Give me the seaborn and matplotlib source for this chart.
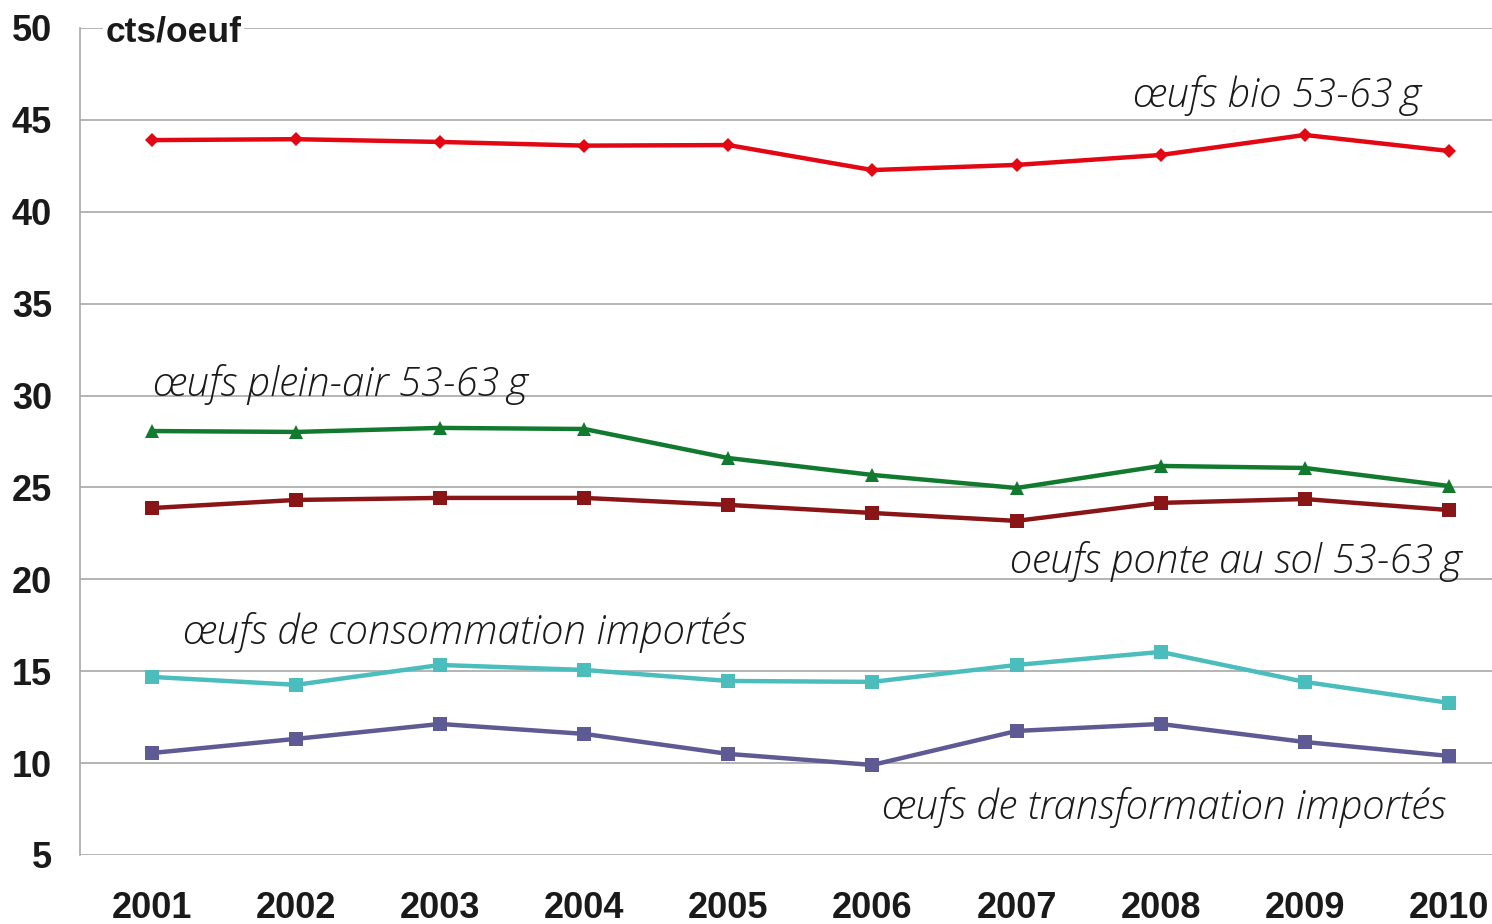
import matplotlib
matplotlib.use("Agg")
import matplotlib.pyplot as plt
import seaborn as sns
import pandas as pd
from matplotlib import font_manager as fm

years = [2001, 2002, 2003, 2004, 2005, 2006, 2007, 2008, 2009, 2010]
bio = [43.9, 43.95, 43.8, 43.6, 43.63, 42.27, 42.55, 43.09, 44.18, 43.31]
plein_air = [28.07, 28.02, 28.24, 28.18, 26.6, 25.68, 24.97, 26.17, 26.06, 25.08]
ponte_sol = [23.88, 24.32, 24.43, 24.43, 24.05, 23.61, 23.18, 24.16, 24.37, 23.77]
consommation = [14.69, 14.26, 15.34, 15.07, 14.47, 14.42, 15.34, 16.05, 14.42, 13.28]
transformation = [10.55, 11.32, 12.13, 11.59, 10.5, 9.9, 11.75, 12.13, 11.15, 10.39]

series_names = ["œufs bio 53-63\u2009g", "œufs plein-air 53-63\u2009g", "oeufs ponte au sol 53-63\u2009g",
                "œufs de consommation importés", "œufs de transformation importés"]
series_values = [bio, plein_air, ponte_sol, consommation, transformation]
y_ticks = [5, 10, 15, 20, 25, 30, 35, 40, 45, 50]
unit_label = "cts/oeuf"

colors = ["#E30613", "#127A2F", "#8A1517", "#4BBDBD", "#5E5A93"]
markers = ["D", "^", "s", "s", "s"]
msizes = [7, 10, 10, 10, 10]

rows = []
for name, vals in zip(series_names, series_values):
    for y, v in zip(years, vals):
        rows.append({"year": y, "value": v, "series": name})
df = pd.DataFrame(rows)

sns.set_theme(style="white")
avail = {f.name for f in fm.fontManager.ttflist}
label_family = "Liberation Sans Narrow" if "Liberation Sans Narrow" in avail else "Open Sans"
plt.rcParams["font.family"] = ["Liberation Sans", "DejaVu Sans"]

fig = plt.figure(figsize=(14.92, 9.24), dpi=100)
ax = fig.add_axes([80 / 1492, 1 - 855 / 924, 1 - 80 / 1492, (855 - 28) / 924])

for name, c, m, ms in zip(series_names, colors, markers, msizes):
    sub = df[df["series"] == name]
    sns.lineplot(data=sub, x="year", y="value", ax=ax, color=c, marker=m,
                 markersize=ms, markeredgewidth=0, linewidth=3.2, legend=False)

ax.set_xlim(2000.5, 2010.3)
ax.set_ylim(5, 50)
ax.set_yticks(y_ticks)
ax.set_xticks(years)
ax.set_xticklabels([str(y) for y in years])
ax.grid(axis="y", color="#A8A8A8", linewidth=1.2)
ax.set_axisbelow(True)
for s in ["top", "right", "bottom"]:
    ax.spines[s].set_visible(False)
ax.spines["left"].set_color("#A8A8A8")
ax.spines["left"].set_linewidth(1.2)
ax.tick_params(axis="y", length=0, pad=20, labelsize=26, labelcolor="#1a1a1a")
ax.tick_params(axis="x", length=0, pad=26, labelsize=26, labelcolor="#1a1a1a")
for lab in ax.get_xticklabels() + ax.get_yticklabels():
    lab.set_fontweight("bold")
ax.set_xlabel("")
ax.set_ylabel("")

ax.text(0.018, 0.995, unit_label, transform=ax.transAxes, ha="left", va="center",
        fontsize=25.5, fontweight="bold", color="#1a1a1a",
        bbox=dict(facecolor="white", edgecolor="none", pad=2))

label_pos = [(2008.81, 46.35), (2002.31, 30.58), (2008.52, 20.95), (2003.17, 17.1), (2008.02, 7.56)]
for name, (x, y) in zip(series_names, label_pos):
    ax.text(x, y, name, ha="center", va="center", fontsize=29, style="italic",
            fontweight="light", family=[label_family, "DejaVu Sans"], color="#1a1a1a")

fig.savefig("out.png", dpi=100)
